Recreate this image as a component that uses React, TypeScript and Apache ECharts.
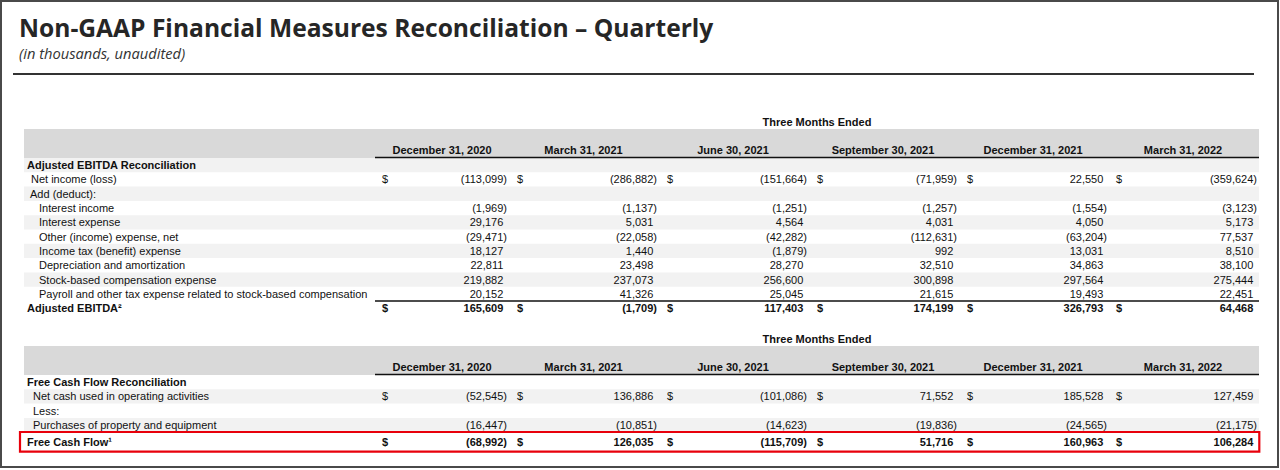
import React, { useEffect, useRef } from "react";
import * as echarts from "echarts";

// ---------------- data ----------------
const titleText = "Non-GAAP Financial Measures Reconciliation – Quarterly";
const subtitleText = "(in thousands, unaudited)";
const periodHeading = "Three Months Ended";
const periods = [
  "December 31, 2020",
  "March 31, 2021",
  "June 30, 2021",
  "September 30, 2021",
  "December 31, 2021",
  "March 31, 2022",
];

const ebitdaLabels = [
  "Adjusted EBITDA Reconciliation",
  "Net income (loss)",
  "Add (deduct):",
  "Interest income",
  "Interest expense",
  "Other (income) expense, net",
  "Income tax (benefit) expense",
  "Depreciation and amortization",
  "Stock-based compensation expense",
  "Payroll and other tax expense related to stock-based compensation",
  "Adjusted EBITDA²",
];
const netIncome = [-113099, -286882, -151664, -71959, 22550, -359624];
const interestIncome = [-1969, -1137, -1251, -1257, -1554, -3123];
const interestExpense = [29176, 5031, 4564, 4031, 4050, 5173];
const otherIncomeExpense = [-29471, -22058, -42282, -112631, -63204, 77537];
const incomeTax = [18127, 1440, -1879, 992, 13031, 8510];
const depreciation = [22811, 23498, 28270, 32510, 34863, 38100];
const stockComp = [219882, 237073, 256600, 300898, 297564, 275444];
const payrollTax = [20152, 41326, 25045, 21615, 19493, 22451];
const adjustedEbitda = [165609, -1709, 117403, 174199, 326793, 64468];
const ebitdaValues: (number[] | null)[] = [
  null,
  netIncome,
  null,
  interestIncome,
  interestExpense,
  otherIncomeExpense,
  incomeTax,
  depreciation,
  stockComp,
  payrollTax,
  adjustedEbitda,
];
const ebitdaDollarRows = [1, 10];
const ebitdaBoldRows = [0, 10];

const fcfLabels = [
  "Free Cash Flow Reconciliation",
  "Net cash used in operating activities",
  "Less:",
  "Purchases of property and equipment",
  "Free Cash Flow¹",
];
const netCashOperating = [-52545, 136886, -101086, 71552, 185528, 127459];
const capex = [-16447, -10851, -14623, -19836, -24565, -21175];
const freeCashFlow = [-68992, 126035, -115709, 51716, 160963, 106284];
const fcfValues: (number[] | null)[] = [null, netCashOperating, null, capex, freeCashFlow];
const fcfDollarRows = [1, 4];
const fcfBoldRows = [0, 4];

// ---------------- layout / style ----------------
const FONT = '"Liberation Sans", Arial, sans-serif';
const COL_RIGHT = [507, 657, 807, 957, 1107, 1257];
const DOLLAR_X = [382, 517, 667, 817, 967, 1116];
const HEAD_CX = [442, 583.5, 733, 883, 1033, 1183];
const BAND_L = 24;
const BAND_R = 1259;
const RULE_L = 375;
const ROW_H = 14.3;
const PAREN_W = 3.7;

const fmt = (v: number) => {
  const s = String(Math.abs(v)).replace(/\B(?=(\d{3})+(?!\d))/g, ",");
  return v < 0 ? `(${s})` : s;
};

type TableCfg = {
  labels: string[];
  values: (number[] | null)[];
  dollarRows: number[];
  boldRows: number[];
  indents: number[];
  shadeParity: number;
  subtotalRow: number;
  highlightRow: number;
};

const tables: TableCfg[] = [
  {
    labels: ebitdaLabels,
    values: ebitdaValues,
    dollarRows: ebitdaDollarRows,
    boldRows: ebitdaBoldRows,
    indents: [27, 31, 30, 39, 39, 39, 39, 39, 39, 39, 27],
    shadeParity: 0,
    subtotalRow: 10,
    highlightRow: -1,
  },
  {
    labels: fcfLabels,
    values: fcfValues,
    dollarRows: fcfDollarRows,
    boldRows: fcfBoldRows,
    indents: [27, 33, 33, 33, 27],
    shadeParity: 1,
    subtotalRow: -1,
    highlightRow: 4,
  },
];
const gridTops = [158, 375];

function makeRenderItem(t: TableCfg) {
  return (params: any, api: any) => {
    const i = api.value(1) as number;
    const yc = api.coord([0, i])[1];
    const h = api.size([0, 1])[1];
    const top = yc - h / 2;
    const X = (v: number) => api.coord([v, i])[0];
    const children: any[] = [];
    const bold = t.boldRows.indexOf(i) >= 0;
    const isTotal = bold && i > 0;
    const ty = i === t.highlightRow ? yc + 2.5 : yc;
    const font = `${bold ? "bold " : ""}11px ${FONT}`;

    if (i % 2 === t.shadeParity && !isTotal) {
      children.push({
        type: "rect",
        shape: { x: X(BAND_L), y: top, width: X(BAND_R) - X(BAND_L), height: h },
        style: { fill: "#f2f2f2" },
      });
    }
    if (i === 0) {
      children.push({
        type: "rect",
        shape: { x: X(BAND_L), y: top - 29, width: X(BAND_R) - X(BAND_L), height: 29 },
        style: { fill: "#d9d9d9" },
      });
      children.push({
        type: "text",
        style: {
          text: periodHeading,
          x: X(817),
          y: top - 36,
          font: `bold 11px ${FONT}`,
          fill: "#111",
          textAlign: "center",
          textVerticalAlign: "middle",
        },
      });
      periods.forEach((p, k) => {
        children.push({
          type: "text",
          style: {
            text: p,
            x: X(HEAD_CX[k]),
            y: top - 8,
            font: `bold 11px ${FONT}`,
            fill: "#111",
            textAlign: "center",
            textVerticalAlign: "middle",
          },
        });
      });
      children.push({
        type: "line",
        shape: { x1: X(RULE_L), y1: top - 0.5, x2: X(BAND_R), y2: top - 0.5 },
        style: { stroke: "#111", lineWidth: 1.4 },
      });
    }
    if (i === t.subtotalRow) {
      children.push({
        type: "line",
        shape: { x1: X(RULE_L), y1: top, x2: X(BAND_R), y2: top },
        style: { stroke: "#111", lineWidth: 1.4 },
      });
    }
    children.push({
      type: "text",
      style: {
        text: t.labels[i],
        x: X(t.indents[i]),
        y: ty,
        font,
        fill: "#111",
        textAlign: "left",
        textVerticalAlign: "middle",
      },
    });
    const vals = t.values[i];
    if (vals) {
      const hasDollar = t.dollarRows.indexOf(i) >= 0;
      vals.forEach((v, k) => {
        if (hasDollar) {
          children.push({
            type: "text",
            style: {
              text: "$",
              x: X(DOLLAR_X[k]),
              y: ty,
              font,
              fill: "#111",
              textAlign: "left",
              textVerticalAlign: "middle",
            },
          });
        }
        children.push({
          type: "text",
          style: {
            text: fmt(v),
            x: X(v < 0 ? COL_RIGHT[k] : COL_RIGHT[k] - PAREN_W),
            y: ty,
            font,
            fill: "#111",
            textAlign: "right",
            textVerticalAlign: "middle",
          },
        });
      });
    }
    if (i === t.highlightRow) {
      children.push({
        type: "rect",
        shape: { x: X(20), y: top - 0.2, width: X(1259.3) - X(20), height: 19.7 },
        style: { fill: "none", stroke: "#e8000b", lineWidth: 2.2 },
      });
    }
    return { type: "group", children };
  };
}

export default function App() {
  const ref = useRef<HTMLDivElement>(null);
  useEffect(() => {
    if (!ref.current) return;
    const chart = echarts.init(ref.current, undefined, { renderer: "svg" });
    const option: any = {
      animation: false,
      backgroundColor: "#ffffff",
      title: {
        text: titleText,
        subtext: subtitleText,
        left: 19,
        top: 12,
        padding: 0,
        itemGap: 2,
        textStyle: {
          fontFamily: "Open Sans",
          fontWeight: 700,
          fontSize: 24.6,
          lineHeight: 30,
          color: "#262626",
        },
        subtextStyle: {
          fontFamily: "Open Sans",
          fontStyle: "italic",
          fontSize: 14.7,
          lineHeight: 18,
          color: "#333333",
        },
      },
      graphic: [
        {
          type: "rect",
          shape: { x: 1, y: 1, width: 1277, height: 466 },
          style: { fill: "none", stroke: "#4a4a4a", lineWidth: 2 },
          silent: true,
        },
        {
          type: "line",
          shape: { x1: 13, y1: 74, x2: 1254, y2: 74 },
          style: { stroke: "#333", lineWidth: 2 },
          silent: true,
        },
      ],
      grid: tables.map((t, g) => ({
        left: 0,
        right: 0,
        top: gridTops[g],
        height: t.labels.length * ROW_H,
        containLabel: false,
      })),
      xAxis: tables.map((_, g) => ({
        type: "value",
        gridIndex: g,
        min: 0,
        max: 1280,
        show: false,
      })),
      yAxis: tables.map((t, g) => ({
        type: "category",
        gridIndex: g,
        data: t.labels,
        inverse: true,
        show: false,
      })),
      series: tables.map((t, g) => ({
        type: "custom",
        xAxisIndex: g,
        yAxisIndex: g,
        clip: false,
        silent: true,
        encode: { x: 0, y: 1 },
        data: t.labels.map((_, i) => [0, i]),
        renderItem: makeRenderItem(t),
      })),
    };
    chart.setOption(option);
    return () => chart.dispose();
  }, []);
  return (
    <div
      ref={ref}
      style={{ position: "absolute", left: 0, top: 0, width: 1280, height: 470 }}
    />
  );
}
